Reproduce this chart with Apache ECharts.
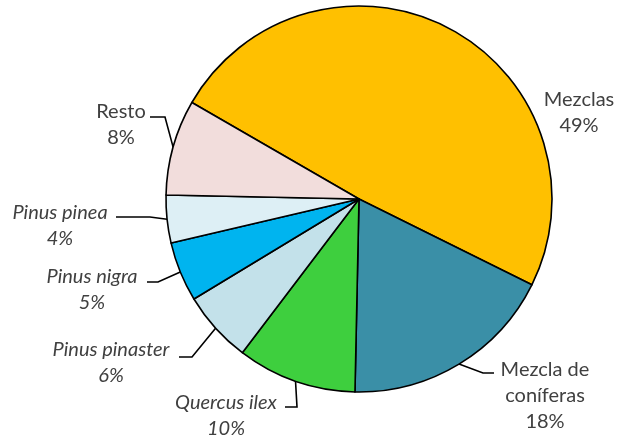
<!DOCTYPE html>
<html>
<head>
<meta charset="utf-8">
<script src="https://cdn.jsdelivr.net/npm/echarts@6/dist/echarts.min.js"></script>
<style>
  html, body { margin: 0; padding: 0; background: #fff; }
  #chart { width: 618px; height: 440px; }
</style>
</head>
<body>
<div id="chart"></div>
<script>
// data
const categories = ['Mezclas', 'Mezcla de coníferas', 'Quercus ilex', 'Pinus pinaster', 'Pinus nigra', 'Pinus pinea', 'Resto'];
const values = [49, 18, 10, 6, 5, 4, 8];
const colors = ['#FFC000', '#3A8FA7', '#3ECF3E', '#C3E1EA', '#00B4EF', '#DDEFF5', '#F2DDDC'];
const italic = [false, false, true, true, true, true, false];

// where each label block sits (center x, top y) and its leader line elbow / end
const labelSpots = [
    {x: 579, y: 87, line: null},
    {x: 545, y: 357, line: [[483, 373], [494, 373]]},
    {x: 226, y: 390, line: [[297, 407], [285, 407]]},
    {x: 111, y: 337, line: [[192, 357], [179, 357]]},
    {x: 92, y: 264, line: [[158, 282], [147, 282]]},
    {x: 60, y: 200, line: [[150, 217], [116, 217]]},
    {x: 121, y: 99, line: [[165, 117], [150, 117]]}
];

const chart = echarts.init(document.getElementById('chart'));
const option = {
    animation: false,
    series: [{
        type: 'pie',
        center: [359, 199],
        radius: 193,
        startAngle: 150,
        clockwise: true,
        avoidLabelOverlap: false,
        itemStyle: {borderColor: '#000', borderWidth: 1.6},
        label: {
            show: true,
            position: 'outside',
            color: '#404040',
            fontFamily: 'Lato',
            fontSize: 20,
            lineHeight: 26,
            align: 'center',
            formatter: p => p.name.replace('Mezcla de ', 'Mezcla de\n') + '\n' + p.percent + '%'
        },
        labelLine: {show: true, lineStyle: {color: '#000', width: 1.6}},
        emphasis: {disabled: true},
        labelLayout(params) {
            const s = labelSpots[params.dataIndex];
            const out = {x: s.x, y: s.y, align: 'center', verticalAlign: 'top'};
            if (s.line && params.labelLinePoints) {
                out.labelLinePoints = [params.labelLinePoints[0], s.line[0], s.line[1]];
            }
            return out;
        },
        data: categories.map((name, i) => ({
            name: name,
            value: values[i],
            itemStyle: {color: colors[i]},
            label: {fontStyle: italic[i] ? 'italic' : 'normal'},
            labelLine: {show: labelSpots[i].line !== null}
        }))
    }]
};
chart.setOption(option);
</script>
</body>
</html>
